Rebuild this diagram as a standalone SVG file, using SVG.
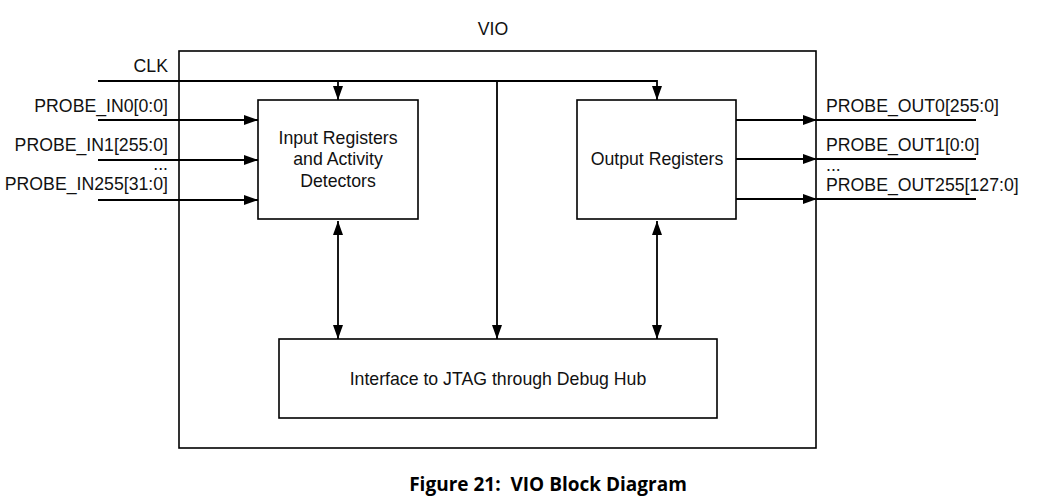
<svg xmlns="http://www.w3.org/2000/svg" width="1045" height="499" viewBox="0 0 1045 499">
<defs>
<marker id="ah" viewBox="0 0 14 10" refX="14" refY="5" markerWidth="14" markerHeight="10" markerUnits="userSpaceOnUse" orient="auto-start-reverse">
<path d="M0,0 L14,5 L0,10 Z" fill="#000"/>
</marker>
<style>
.t{font-family:"Liberation Sans",Arial,sans-serif;font-size:17.7px;fill:#111;}
.box{fill:#fff;stroke:#000;stroke-width:1.6;}
.ln{fill:none;stroke:#000;stroke-width:1.8;}
.cap{font-family:"Open Sans","Noto Sans",sans-serif;font-weight:bold;font-size:19px;fill:#000;}
</style>
</defs>
<rect width="1045" height="499" fill="#fff"/>
<g id="vio">
<rect class="box" x="179" y="51" width="637" height="397"/>
<text class="t" x="493" y="35" text-anchor="middle">VIO</text>
</g>
<g id="connectors">
<path class="ln" d="M98,81 H657 V100" marker-end="url(#ah)"/>
<path class="ln" d="M338,81 V100" marker-end="url(#ah)"/>
<path class="ln" d="M497,81 V339" marker-end="url(#ah)"/>
<path class="ln" d="M98,120 H258" marker-end="url(#ah)"/>
<path class="ln" d="M98,160 H258" marker-end="url(#ah)"/>
<path class="ln" d="M98,200 H258" marker-end="url(#ah)"/>
<path class="ln" d="M338,221 V339" marker-start="url(#ah)" marker-end="url(#ah)"/>
<path class="ln" d="M657,221 V339" marker-start="url(#ah)" marker-end="url(#ah)"/>
<path class="ln" d="M736,120 H817" marker-end="url(#ah)"/>
<path class="ln" d="M736,159 H817" marker-end="url(#ah)"/>
<path class="ln" d="M736,199 H817" marker-end="url(#ah)"/>
<path class="ln" d="M816,120 H976 M816,159 H976 M816,199 H976"/>
</g>
<g id="labels">
<text class="t" x="168" y="72" text-anchor="end">CLK</text>
<text class="t" x="168" y="112" text-anchor="end">PROBE_IN0[0:0]</text>
<text class="t" x="168" y="151" text-anchor="end">PROBE_IN1[255:0]</text>
<text class="t" x="168" y="170" text-anchor="end">...</text>
<text class="t" x="168" y="190" text-anchor="end">PROBE_IN255[31:0]</text>
<text class="t" x="826" y="112">PROBE_OUT0[255:0]</text>
<text class="t" x="826" y="151">PROBE_OUT1[0:0]</text>
<text class="t" x="826" y="171">...</text>
<text class="t" x="826" y="191">PROBE_OUT255[127:0]</text>
</g>
<g id="input-registers">
<rect class="box" x="258" y="100" width="160" height="119"/>
<text class="t" x="338" y="144" text-anchor="middle">Input Registers</text>
<text class="t" x="338" y="165" text-anchor="middle">and Activity</text>
<text class="t" x="338" y="187" text-anchor="middle">Detectors</text>
</g>
<g id="output-registers">
<rect class="box" x="577" y="100" width="159" height="119"/>
<text class="t" x="657" y="165" text-anchor="middle">Output Registers</text>
</g>
<g id="jtag-interface">
<rect class="box" x="279" y="339" width="438" height="79"/>
<text class="t" x="498" y="385" text-anchor="middle">Interface to JTAG through Debug Hub</text>
</g>
<text class="cap" x="548" y="491" text-anchor="middle" xml:space="preserve">Figure 21:  VIO Block Diagram</text>
</svg>
